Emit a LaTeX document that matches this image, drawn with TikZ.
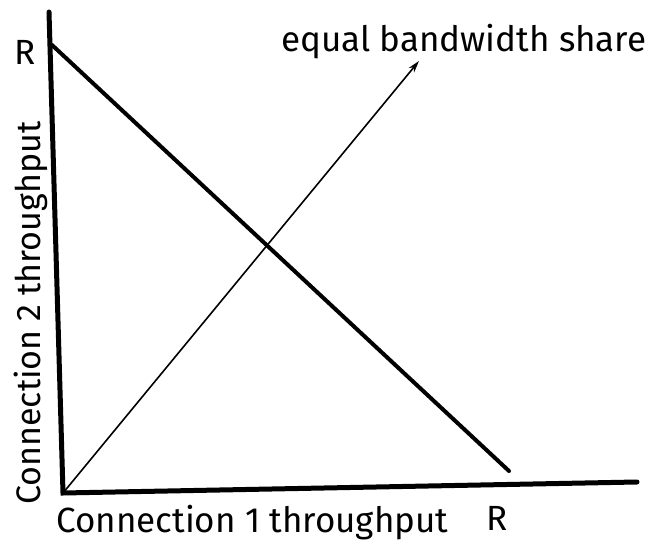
\documentclass[tikz,border=0pt]{standalone}
\usepackage{fontspec}
\setmainfont{Fira Sans}
\usetikzlibrary{arrows.meta}
\begin{document}
\begin{tikzpicture}[x=1pt,y=-1pt,
  axis/.style={line width=5pt,line cap=round},
  budget/.style={line width=4pt,line cap=round},
  share/.style={line width=1.6pt,-{Stealth[length=12pt,width=7pt]}},
  lbl/.style={font=\fontsize{35}{38}\selectfont,inner sep=0pt}]
\useasboundingbox (0,0) rectangle (659,543);
\coordinate (ytop) at (49,12);
\coordinate (orig) at (63,493);
\coordinate (xend) at (637,482);
\coordinate (rtop) at (52,45);
\coordinate (rright) at (509,471);
\coordinate (tip) at (419,61);
\draw[axis] (ytop) -- (orig) -- (xend);
\draw[budget] (rtop) -- (rright);
\draw[share] (orig) -- (tip);
\node[lbl] (ry) at (25,52) {R};
\node[lbl] (rx) at (497,518) {R};
\node[lbl,anchor=base west] (eq) at (281,52) {equal bandwidth share};
\node[lbl,anchor=base west] (c1) at (56,532) {Connection 1 throughput};
\node[lbl,font=\fontsize{34}{36}\selectfont,rotate=90,anchor=base west] (c2) at (40,505) {Connection 2 throughput};
\end{tikzpicture}
\end{document}
